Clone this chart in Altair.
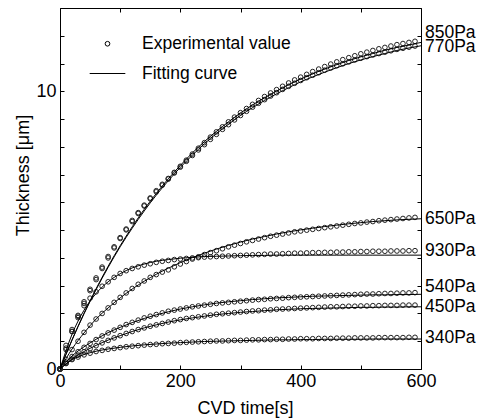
import altair as alt
import pandas as pd

FONT = "Liberation Sans"

# time axis of the experimental points and of the fitting curves
T_PTS = list(range(0, 600, 10))
T_FIT = list(range(0, 601, 20))

SERIES = ["850Pa", "770Pa", "650Pa", "930Pa", "540Pa", "450Pa", "340Pa"]
LABEL_Y = [12.1, 11.6, 5.40, 4.26, 2.95, 2.23, 1.12]

PTS_850 = [0, 0.85, 1.42, 1.93, 2.42, 2.87, 3.28, 3.67, 4.05, 4.40, 4.73, 5.04, 5.35, 5.63, 5.90,
           6.16, 6.42, 6.65, 6.86, 7.08, 7.30, 7.52, 7.74, 7.95, 8.15, 8.35, 8.54, 8.72, 8.90, 9.07,
           9.23, 9.38, 9.53, 9.67, 9.81, 9.94, 10.06, 10.18, 10.30, 10.41, 10.51, 10.61, 10.71, 10.80,
           10.89, 10.98, 11.06, 11.14, 11.21, 11.28, 11.35, 11.41, 11.47, 11.53, 11.58, 11.63, 11.68,
           11.72, 11.76, 11.80]
PTS_770 = [0, 0.70, 1.35, 1.90, 2.36, 2.82, 3.22, 3.62, 4.00, 4.36, 4.70, 5.01, 5.31, 5.60, 5.87,
           6.13, 6.38, 6.62, 6.84, 7.06, 7.27, 7.48, 7.69, 7.89, 8.08, 8.27, 8.45, 8.63, 8.80, 8.97,
           9.13, 9.28, 9.43, 9.57, 9.70, 9.83, 9.95, 10.07, 10.18, 10.29, 10.39, 10.49, 10.58, 10.67,
           10.76, 10.84, 10.92, 10.99, 11.06, 11.13, 11.19, 11.25, 11.31, 11.36, 11.41, 11.46, 11.51,
           11.55, 11.59, 11.63]
PTS_650 = [0, 0.35, 0.70, 1.00, 1.32, 1.58, 1.80, 2.00, 2.20, 2.40, 2.58, 2.74, 2.90, 3.05, 3.17,
           3.30, 3.40, 3.49, 3.57, 3.68, 3.78, 3.87, 3.96, 4.04, 4.12, 4.19, 4.26, 4.33, 4.40, 4.46,
           4.52, 4.58, 4.63, 4.68, 4.73, 4.78, 4.82, 4.86, 4.90, 4.94, 4.97, 5.00, 5.03, 5.06, 5.09,
           5.12, 5.15, 5.18, 5.21, 5.24, 5.26, 5.29, 5.31, 5.34, 5.36, 5.38, 5.40, 5.42, 5.44, 5.46]
PTS_930 = [0, 0.75, 1.35, 1.85, 2.28, 2.55, 2.78, 2.98, 3.14, 3.30, 3.44, 3.54, 3.62, 3.68, 3.74,
           3.79, 3.84, 3.88, 3.91, 3.94, 3.96, 3.98, 4.00, 4.01, 4.03, 4.04, 4.05, 4.06, 4.07, 4.08,
           4.09, 4.10, 4.11, 4.12, 4.13, 4.14, 4.14, 4.15, 4.16, 4.17, 4.17, 4.18, 4.19, 4.19, 4.20,
           4.20, 4.21, 4.21, 4.22, 4.22, 4.23, 4.23, 4.24, 4.24, 4.24, 4.25, 4.25, 4.25, 4.26, 4.26]
PTS_540 = [0, 0.25, 0.45, 0.62, 0.78, 0.92, 1.06, 1.19, 1.30, 1.40, 1.50, 1.60, 1.68, 1.76, 1.84,
           1.90, 1.96, 2.02, 2.08, 2.12, 2.16, 2.20, 2.24, 2.27, 2.30, 2.33, 2.36, 2.38, 2.40, 2.42,
           2.44, 2.46, 2.48, 2.50, 2.51, 2.53, 2.54, 2.55, 2.57, 2.58, 2.59, 2.60, 2.61, 2.62, 2.63,
           2.64, 2.65, 2.66, 2.67, 2.68, 2.69, 2.70, 2.70, 2.71, 2.72, 2.72, 2.73, 2.74, 2.74, 2.75]
PTS_450 = [0, 0.20, 0.36, 0.50, 0.62, 0.73, 0.84, 0.94, 1.03, 1.12, 1.20, 1.28, 1.35, 1.42, 1.48,
           1.54, 1.59, 1.64, 1.69, 1.74, 1.78, 1.82, 1.85, 1.88, 1.91, 1.94, 1.97, 1.99, 2.01, 2.03,
           2.05, 2.07, 2.09, 2.10, 2.12, 2.13, 2.15, 2.16, 2.17, 2.18, 2.19, 2.20, 2.21, 2.22, 2.23,
           2.24, 2.24, 2.25, 2.26, 2.26, 2.27, 2.27, 2.28, 2.28, 2.29, 2.29, 2.29, 2.30, 2.30, 2.30]
PTS_340 = [0, 0.20, 0.34, 0.43, 0.51, 0.57, 0.63, 0.67, 0.71, 0.74, 0.77, 0.80, 0.82, 0.84, 0.86,
           0.88, 0.89, 0.91, 0.92, 0.93, 0.95, 0.96, 0.97, 0.98, 0.99, 1.00, 1.01, 1.01, 1.02, 1.03,
           1.03, 1.04, 1.05, 1.05, 1.06, 1.06, 1.07, 1.07, 1.08, 1.08, 1.09, 1.09, 1.09, 1.10, 1.10,
           1.10, 1.11, 1.11, 1.11, 1.12, 1.12, 1.12, 1.12, 1.13, 1.13, 1.13, 1.13, 1.13, 1.14, 1.14]

FIT_850 = [0, 1.05, 2.01, 2.89, 3.70, 4.44, 5.12, 5.75, 6.32, 6.85, 7.33, 7.78, 8.19, 8.56, 8.90,
           9.22, 9.51, 9.77, 10.01, 10.24, 10.44, 10.63, 10.80, 10.96, 11.11, 11.24, 11.36, 11.48,
           11.58, 11.67, 11.76]
FIT_770 = [0, 1.04, 1.99, 2.86, 3.66, 4.40, 5.07, 5.69, 6.26, 6.78, 7.26, 7.70, 8.11, 8.48, 8.81,
           9.13, 9.41, 9.67, 9.91, 10.13, 10.34, 10.52, 10.69, 10.85, 11.00, 11.13, 11.25, 11.36,
           11.47, 11.56, 11.64]
FIT_650 = [0, 0.72, 1.30, 1.80, 2.20, 2.56, 2.88, 3.16, 3.41, 3.63, 3.83, 4.01, 4.17, 4.32, 4.45,
           4.57, 4.68, 4.77, 4.86, 4.94, 5.01, 5.07, 5.13, 5.18, 5.23, 5.27, 5.31, 5.34, 5.37, 5.39,
           5.41]
FIT_930 = [0, 1.25, 2.12, 2.72, 3.14, 3.43, 3.64, 3.78, 3.88, 3.94, 3.99, 4.02, 4.05, 4.06, 4.07,
           4.08, 4.09, 4.09, 4.10, 4.10, 4.10, 4.10, 4.10, 4.10, 4.10, 4.10, 4.10, 4.10, 4.10, 4.10,
           4.10]
FIT_540 = [0, 0.47, 0.80, 1.07, 1.31, 1.50, 1.67, 1.82, 1.95, 2.06, 2.16, 2.24, 2.31, 2.37, 2.42,
           2.46, 2.50, 2.53, 2.56, 2.58, 2.60, 2.62, 2.63, 2.64, 2.65, 2.66, 2.67, 2.67, 2.68, 2.68,
           2.69]
FIT_450 = [0, 0.36, 0.63, 0.85, 1.04, 1.20, 1.35, 1.48, 1.59, 1.69, 1.77, 1.84, 1.90, 1.96, 2.00,
           2.04, 2.07, 2.10, 2.13, 2.15, 2.17, 2.18, 2.19, 2.20, 2.21, 2.22, 2.22, 2.23, 2.23, 2.24,
           2.24]
FIT_340 = [0, 0.33, 0.52, 0.64, 0.72, 0.78, 0.83, 0.87, 0.90, 0.93, 0.95, 0.97, 0.99, 1.00, 1.01,
           1.02, 1.03, 1.04, 1.05, 1.05, 1.06, 1.06, 1.07, 1.07, 1.07, 1.07, 1.08, 1.08, 1.08, 1.08,
           1.08]

KINDS = ["Experimental value", "Fitting curve"]
X_TICKS = [0, 100, 200, 300, 400, 500, 600]
Y_TICKS = list(range(0, 14))

PTS = [PTS_850, PTS_770, PTS_650, PTS_930, PTS_540, PTS_450, PTS_340]
FITS = [FIT_850, FIT_770, FIT_650, FIT_930, FIT_540, FIT_450, FIT_340]

pts_rows = []
for name, vals in zip(SERIES, PTS):
    for t, v in zip(T_PTS, vals):
        pts_rows.append({"series": name, "t": t, "v": v, "kind": KINDS[0]})
df_pts = pd.DataFrame(pts_rows)

fit_rows = []
for name, vals in zip(SERIES, FITS):
    for t, v in zip(T_FIT, vals):
        fit_rows.append({"series": name, "t": t, "v": v})
df_fit = pd.DataFrame(fit_rows)

df_lab = pd.DataFrame({"series": SERIES, "t": [600] * len(SERIES), "v": LABEL_Y})

xs = alt.Scale(domain=[0, 600], nice=False, zero=False)
ys = alt.Scale(domain=[0, 13], nice=False, zero=False)
TICK = {"expr": "-4"}

legend_common = dict(
    title=None, orient="none", legendX=29, legendY=27,
    labelFont=FONT, labelFontSize=17.5, labelColor="black",
    symbolStrokeColor="black", symbolStrokeWidth=1, symbolFillColor="transparent",
    labelOffset=16, rowPadding=2,
)

points = alt.Chart(df_pts).mark_point(filled=False, color="#222", strokeWidth=1, opacity=1).encode(
    x=alt.X("t:Q", scale=xs, axis=alt.Axis(
        orient="bottom", values=X_TICKS, tickSize=TICK, labelPadding=7, labelFlush=False,
        labelExpr="datum.value % 200 == 0 ? datum.label : ''",
        title="CVD time[s]", titleX=185, titleY=44, titleBaseline="alphabetic")),
    y=alt.Y("v:Q", scale=ys, axis=alt.Axis(
        orient="left", values=Y_TICKS, tickSize=TICK, labelPadding=8,
        labelExpr="(datum.value == 0 || datum.value == 10) ? datum.label : ''",
        title="Thickness [μm]", titleX=-37, titleY=167, titleBaseline="middle")),
    shape=alt.Shape("kind:N", scale=alt.Scale(domain=KINDS, range=["circle", "stroke"]),
                    legend=alt.Legend(**legend_common)),
    size=alt.Size("kind:N", scale=alt.Scale(domain=KINDS, range=[22, 1270]),
                  legend=alt.Legend(**legend_common)),
    detail="series:N",
)

lines = alt.Chart(df_fit).mark_line(color="black", strokeWidth=1, interpolate="monotone").encode(
    x=alt.X("t:Q", scale=xs, axis=None),
    y=alt.Y("v:Q", scale=ys, axis=None),
    detail="series:N",
)

labels = alt.Chart(df_lab).mark_text(
    align="left", baseline="middle", dx=4, font=FONT, fontSize=17.5, color="black"
).encode(
    x=alt.X("t:Q", scale=xs, axis=alt.Axis(orient="top", values=X_TICKS, tickSize=TICK,
                                           labels=False, title=None)),
    y=alt.Y("v:Q", scale=ys, axis=alt.Axis(orient="right", values=Y_TICKS, tickSize=TICK,
                                           labels=False, title=None)),
    text="series:N",
)

chart = alt.layer(points, lines, labels).resolve_axis(
    x="independent", y="independent"
).properties(
    width=361, height=361,
    autosize=alt.AutoSizeParams(type="none"),
    padding={"left": 52, "top": 0, "right": 56, "bottom": 50},
).configure_axis(
    grid=False, domainColor="black", domainWidth=1, tickColor="black", tickWidth=1,
    labelFont=FONT, titleFont=FONT, labelFontSize=18, titleFontSize=18,
    labelColor="black", titleColor="black", titleFontWeight="normal",
).configure_view(stroke=None)

chart.save("out.html", embed_options={"renderer": "svg", "actions": False})
